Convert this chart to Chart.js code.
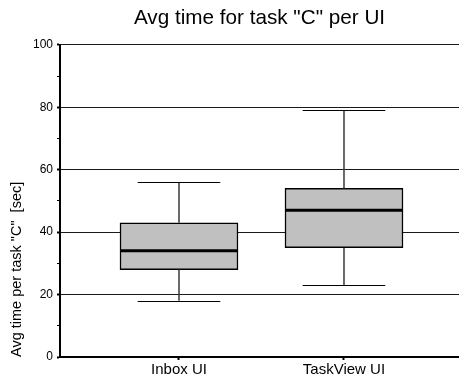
<!DOCTYPE html>
<html><head><meta charset="utf-8">
<script src="https://cdn.jsdelivr.net/npm/chart.js@4.4.1/dist/chart.umd.min.js"></script>
<style>html,body{margin:0;padding:0;background:#fff}canvas{display:block}</style>
</head><body>
<canvas id="c" width="459" height="379"></canvas>
<script>
const categories = ['Inbox UI', 'TaskView UI'];
const positions = [1, 2];
const mins = [18, 23];
const q1s = [28, 35];
const medians = [34, 47];
const q3s = [43, 54];
const maxs = [56, 79];
const yLabelTicks = [0, 20, 40, 60, 80, 100];

const FONT = "'Liberation Sans', Arial, sans-serif";

const boxData = positions.map((p, i) => ({ x: p, y: [q1s[i], q3s[i]] }));

const whiskerPlugin = {
  id: 'whiskers',
  afterDatasetsDraw(chart) {
    const ctx = chart.ctx;
    const xs = chart.scales.x, ys = chart.scales.y;
    const meta = chart.getDatasetMeta(0);
    ctx.save();
    positions.forEach((p, i) => {
      const x = xs.getPixelForValue(p);
      const bar = meta.data[i];
      const half = bar.width / 2;
      const capHalf = half * 0.7;
      ctx.strokeStyle = '#3a3a3a';
      ctx.lineWidth = 1.5;
      ctx.beginPath();
      ctx.moveTo(x, ys.getPixelForValue(q3s[i]));
      ctx.lineTo(x, ys.getPixelForValue(maxs[i]));
      ctx.moveTo(x, ys.getPixelForValue(q1s[i]));
      ctx.lineTo(x, ys.getPixelForValue(mins[i]));
      ctx.stroke();
      ctx.strokeStyle = '#000';
      ctx.lineWidth = 1;
      ctx.beginPath();
      const yMax = Math.round(ys.getPixelForValue(maxs[i])) + 0.5;
      const yMin = Math.round(ys.getPixelForValue(mins[i])) + 0.5;
      ctx.moveTo(x - capHalf, yMax); ctx.lineTo(x + capHalf, yMax);
      ctx.moveTo(x - capHalf, yMin); ctx.lineTo(x + capHalf, yMin);
      ctx.stroke();
      ctx.strokeStyle = '#000';
      ctx.lineWidth = 3;
      ctx.beginPath();
      const ym = ys.getPixelForValue(medians[i]);
      ctx.moveTo(bar.x - half, ym); ctx.lineTo(bar.x + half, ym);
      ctx.stroke();
    });
    ctx.restore();
  }
};

new Chart(document.getElementById('c'), {
  type: 'bar',
  data: {
    datasets: [{
      data: boxData,
      backgroundColor: '#c0c0c0',
      borderColor: '#000',
      borderWidth: 1.5,
      borderSkipped: false,
      barThickness: 118
    }]
  },
  options: {
    responsive: false,
    animation: false,
    layout: { padding: 0 },
    plugins: {
      legend: { display: false },
      tooltip: { enabled: false },
      title: {
        display: true,
        text: 'Avg time for task "C" per UI',
        fullSize: false,
        color: '#000',
        font: { family: FONT, size: 20.7, weight: 'normal' },
        padding: { top: 6, bottom: 14 }
      }
    },
    scales: {
      x: {
        type: 'linear',
        offset: false,
        min: 0.2788,
        max: 2.697,
        afterBuildTicks: (s) => { s.ticks = positions.map(v => ({ value: v })); },
        afterFit: (s) => { s.height = 22; },
        ticks: {
          callback: (v) => categories[positions.indexOf(v)] ?? '',
          color: '#000',
          font: { family: FONT, size: 15 },
          padding: 1,
          maxRotation: 0,
          autoSkip: false
        },
        grid: { offset: false, drawOnChartArea: false, tickLength: 3, tickColor: '#000', tickWidth: 2 },
        border: { color: '#000', width: 2 }
      },
      y: {
        min: 0,
        max: 100,
        afterFit: (s) => { s.width = 60; },
        ticks: {
          stepSize: 10,
          autoSkip: false,
          callback: (v) => yLabelTicks.includes(v) ? String(v) : '',
          color: '#000',
          font: { family: FONT, size: 12 },
          padding: 4
        },
        grid: {
          color: (c) => (c.tick && yLabelTicks.includes(c.tick.value)) ? '#1a1a1a' : 'rgba(0,0,0,0)',
          lineWidth: 1,
          tickLength: 3,
          tickColor: '#000',
          tickWidth: (c) => (c.tick && yLabelTicks.includes(c.tick.value)) ? 2 : 1
        },
        border: { color: '#000', width: 2 },
        title: {
          display: true,
          text: 'Avg time per task "C"  [sec]',
          align: 'start',
          color: '#000',
          font: { family: FONT, size: 14.5 },
          padding: { top: 8, bottom: 0 }
        }
      }
    }
  },
  plugins: [whiskerPlugin]
});
</script>
</body></html>
